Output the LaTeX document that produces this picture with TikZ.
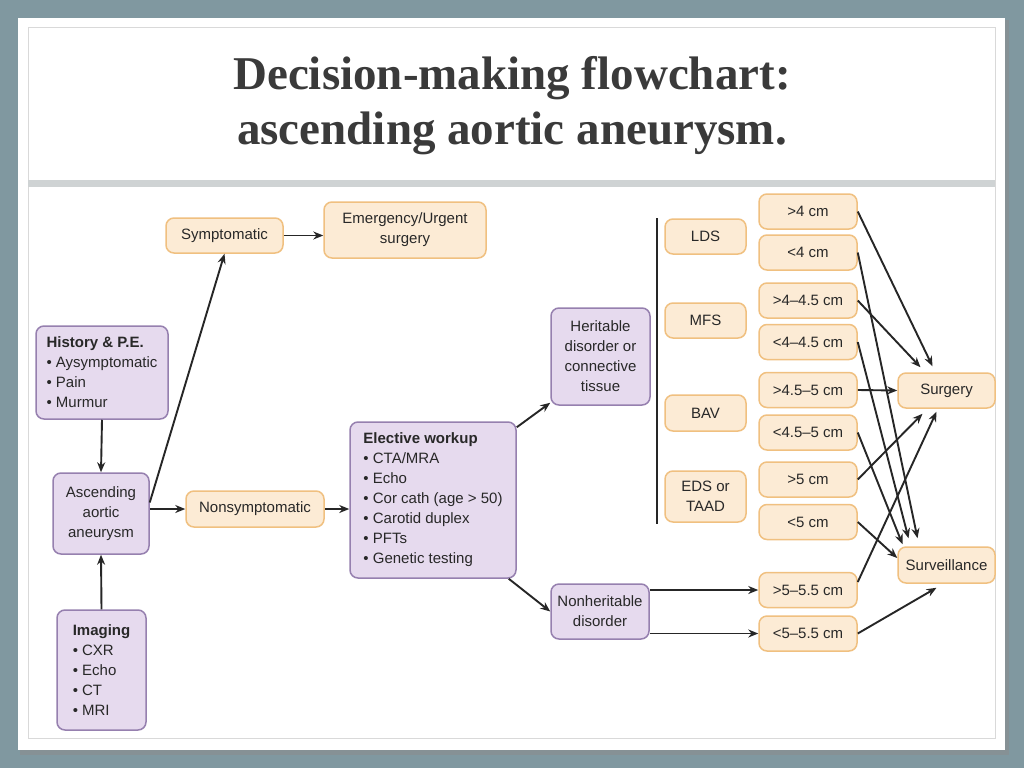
\documentclass[tikz,border=0pt]{standalone}
\usepackage{fontspec}
\setmainfont{Liberation Sans}
\newfontfamily\titlefont{Liberation Serif}
\usetikzlibrary{calc,positioning,arrows.meta}

\definecolor{slatebg}{RGB}{128,152,160}
\definecolor{peachfill}{RGB}{252,235,213}
\definecolor{peachline}{RGB}{240,192,128}
\definecolor{lilacfill}{RGB}{230,218,238}
\definecolor{lilacline}{RGB}{150,128,175}
\definecolor{titlegray}{RGB}{58,58,58}
\definecolor{bargray}{RGB}{207,211,212}
\definecolor{inkgray}{RGB}{40,40,40}

\begin{document}
\begin{tikzpicture}[x=1pt,y=-1pt,>={Stealth[length=10pt,width=8pt]},
	every node/.style={font=\fontsize{15}{20}\selectfont,text=inkgray},
	orangebox/.style={draw=peachline,fill=peachfill,line width=1.5pt,rounded corners=8pt,inner sep=0pt,align=center},
	purplebox/.style={draw=lilacline,fill=lilacfill,line width=1.5pt,rounded corners=8pt,inner sep=0pt,align=center},
	sizebox/.style={orangebox,minimum width=98pt,minimum height=35pt},
	arr/.style={->,line width=1.9pt,black!85}]
					\useasboundingbox (0,0) rectangle (1024,768);

					% slide frame
					\fill[slatebg] (0,0) rectangle (1024,768);
					\fill[black!45,opacity=.5] (20,20) rectangle (1009,755);
					\fill[white] (18,18) rectangle (1005,750);
					\draw[black!15] (28,27) rectangle (995,738);
					\fill[bargray] (28,180) rectangle (995,187);
					\node[font=\titlefont\bfseries\fontsize{47}{55}\selectfont,text=titlegray,align=center] (title) at (512,106) {Decision-making flowchart:\\ascending aortic aneurysm.};

					% left column
					\node[purplebox,minimum width=132pt,minimum height=93pt,align=left] (hist) at (102,372.5) {\textbf{History \& P.E.}\\• Aysymptomatic\\• Pain\\• Murmur};
					\node[purplebox,minimum width=96pt,minimum height=81pt] (asc) at (101,513.5) {Ascending\\aortic\\aneurysm};
					\node[purplebox,minimum width=89pt,minimum height=120pt,align=left] (imag) at (101.5,670) {\textbf{Imaging}\\• CXR\\• Echo\\• CT\\• MRI};
					\node[orangebox,minimum width=117pt,minimum height=35pt] (symp) at (224.5,235.5) {Symptomatic};
					\node[orangebox,minimum width=162pt,minimum height=56pt] (emerg) at (405,230) {Emergency/Urgent\\surgery};
					\node[orangebox,minimum width=138pt,minimum height=36pt] (nonsymp) at (255,509) {Nonsymptomatic};
					\node[purplebox,minimum width=166pt,minimum height=156pt,align=left] (elect) at (433,500) {\textbf{Elective workup}\\• CTA/MRA\\• Echo\\• Cor cath (age > 50)\\• Carotid duplex\\• PFTs\\• Genetic testing};
					\node[purplebox,minimum width=99pt,minimum height=97pt] (herit) at (600.5,356.5) {Heritable\\disorder or\\connective\\tissue};
					\node[purplebox,minimum width=98pt,minimum height=55pt] (nonher) at (600,611.5) {Nonheritable\\disorder};

					% disorders
					\coordinate (bartop) at (657,218);
					\coordinate (barbot) at (657,524);
					\node[orangebox,minimum width=81pt,minimum height=35pt] (lds) at (705.5,236.5) {LDS};
					\node[orangebox,minimum width=81pt,minimum height=35pt] (mfs) at (705.5,320.5) {MFS};
					\node[orangebox,minimum width=81pt,minimum height=36pt] (bav) at (705.5,413) {BAV};
					\node[orangebox,minimum width=81pt,minimum height=51pt] (eds) at (705.5,496.5) {EDS or\\TAAD};

					% diameters
					\node[sizebox] (gt4) at (808,211.5) {>4 cm};
					\node[sizebox] (lt4) at (808,252.5) {<4 cm};
					\node[sizebox] (gt445) at (808,300.5) {>4\textendash 4.5 cm};
					\node[sizebox] (lt445) at (808,342) {<4\textendash 4.5 cm};
					\node[sizebox] (gt455) at (808,390) {>4.5\textendash 5 cm};
					\node[sizebox] (lt455) at (808,432.5) {<4.5\textendash 5 cm};
					\node[sizebox] (gt5) at (808,479.5) {>5 cm};
					\node[sizebox] (lt5) at (808,522) {<5 cm};
					\node[sizebox] (gt55) at (808,590) {>5\textendash 5.5 cm};
					\node[sizebox] (lt55) at (808,633.5) {<5\textendash 5.5 cm};

					% outcomes
					\node[orangebox,minimum width=97pt,minimum height=35pt] (surg) at (946.5,390.5) {Surgery};
					\node[orangebox,minimum width=97pt,minimum height=36pt] (surv) at (946.5,565) {Surveillance};

					% vertical line
					\draw[line width=2pt,black!85] (bartop) -- (barbot);

					% left arrows
					\draw[arr] (hist.south) -- (asc.north);
					\draw[arr] (imag.north) -- (asc.south);
					\draw[arr] ([yshift=11pt]asc.east) -- (symp.south);
					\draw[arr] (asc.east |- nonsymp.west) -- (nonsymp.west);
					\draw[arr] (symp.east) -- (symp.east -| emerg.west);
					\draw[arr] (nonsymp.east) -- (nonsymp.east -| elect.west);
					\draw[arr] ([yshift=-6pt]elect.north east) -- ([yshift=3pt]herit.south west);
					\draw[arr] ([xshift=-8pt]elect.south east) -- (nonher.west);
					\draw[arr] (nonher.east |- gt55.west) -- (gt55.west);
					\draw[arr] (nonher.east |- lt55.west) -- (lt55.west);

					% right arrows
					\draw[arr] (gt4.east) -- ([xshift=-14pt,yshift=6pt]surg.north);
					\draw[arr] (gt445.east) -- ([xshift=-26pt,yshift=5pt]surg.north);
					\draw[arr] (gt455.east) -- (surg.west);
					\draw[arr] (gt5.east) -- ([xshift=-24pt,yshift=-5pt]surg.south);
					\draw[arr] ([yshift=8pt]gt55.east) -- ([xshift=-10pt,yshift=-3pt]surg.south);
					\draw[arr] (lt4.east) -- ([xshift=-29pt,yshift=8pt]surv.north);
					\draw[arr] (lt445.east) -- ([xshift=-38pt,yshift=8pt]surv.north);
					\draw[arr] (lt455.east) -- ([xshift=-44pt,yshift=2pt]surv.north);
					\draw[arr] (lt5.east) -- ([yshift=7pt]surv.west);
					\draw[arr] (lt55.east) -- ([xshift=-10pt,yshift=-4pt]surv.south);
				\end{tikzpicture}
\end{document}
